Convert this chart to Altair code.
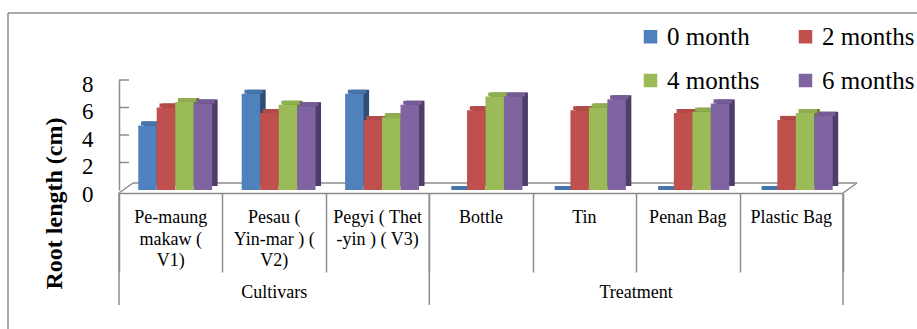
import altair as alt
import pandas as pd

# Categories on the x axis (line breaks mark the wrapped label lines)
categories = [
    "Pe-maung\nmakaw (\nV1)",
    "Pesau (\nYin-mar ) (\nV2)",
    "Pegyi ( Thet\n-yin ) ( V3)",
    "Bottle",
    "Tin",
    "Penan Bag",
    "Plastic Bag",
]
group_names = ["Cultivars", "Treatment"]
series = ["0 month", "2 months", "4 months", "6 months"]

# Root length (cm) per category for each sampling time
month_0 = [4.7, 7.0, 7.0, 0.0, 0.0, 0.0, 0.0]
month_2 = [6.0, 5.6, 5.1, 5.8, 5.8, 5.6, 5.1]
month_4 = [6.4, 6.2, 5.3, 6.8, 6.0, 5.7, 5.6]
month_6 = [6.3, 6.1, 6.2, 6.8, 6.6, 6.3, 5.4]
y_ticks = [0, 2, 4, 6, 8]

front_colors = ["#4F81BD", "#C0504D", "#9BBB59", "#8064A2"]
top_colors = ["#4675AE", "#B24A47", "#8FAE50", "#765C97"]
side_colors = ["#2E4C75", "#843330", "#647A33", "#4E3D68"]

W, H = 724, 113
SERIF = "Liberation Serif"
GREY = "#8C8C8C"

rows = []
for s, vals in zip(series, [month_0, month_2, month_4, month_6]):
    for c, v in zip(categories, vals):
        rows.append({"category": c, "series": s, "value": v})
df = pd.DataFrame(rows)
cat_df = pd.DataFrame({"category": categories})
one = pd.DataFrame({"k": [0]})

y_scale = alt.Scale(domain=[0, 8], range=[110, 0], nice=False)
y_axis = alt.Axis(values=y_ticks, title="Root length (cm)",
                  titleFont=SERIF, titleFontSize=24,
                  titleFontWeight="bold", titleColor="black",
                  titleAngle=270, titleX=-65, titleY=123,
                  titleAlign="center", titleBaseline="middle",
                  labelFont=SERIF, labelFontSize=23,
                  labelColor="black", labelPadding=26,
                  labelOffset=4, ticks=False, domainColor=GREY,
                  domainWidth=1.5, grid=False)
x_scale = alt.Scale(domain=categories, paddingInner=0, paddingOuter=0)
x_axis = alt.Axis(title=None, labels=False, tickBand="extent", tickSize=79,
                  tickColor=GREY, tickWidth=1.5, domainColor=GREY,
                  domainWidth=1.5, grid=False)


def x_enc(band=None):
    if band is None:
        return alt.X("category:N", sort=categories, scale=x_scale, axis=x_axis)
    return alt.X("category:N", sort=categories, scale=x_scale, axis=x_axis,
                 bandPosition=band)


def y_enc(field):
    return alt.Y(field, scale=y_scale, axis=y_axis)


def offset_enc(shift):
    # four bars per category, nudged right inside the band; shift gives the depth
    return alt.XOffset("series:N", sort=series,
                       scale=alt.Scale(domain=series, paddingInner=0,
                                       paddingOuter=0.8,
                                       align=(19.3 + shift) / 29.6))


def color_enc(rng, legend=None):
    if legend is None:
        return alt.Color("series:N", sort=series,
                         scale=alt.Scale(domain=series, range=rng), legend=None)
    return alt.Color("series:N", sort=series,
                     scale=alt.Scale(domain=series, range=rng), legend=legend)


# frame around the figure
frame_top = alt.Chart(one).mark_rule(color=GREY, strokeWidth=1.5).encode(
    x=alt.value(-111), x2=alt.value(W + 80), y=alt.value(-67))
frame_left = alt.Chart(one).mark_rule(color=GREY, strokeWidth=1.5).encode(
    x=alt.value(-111), y=alt.value(-67), y2=alt.value(H + 140))

# 3-D floor outline
floor_back = alt.Chart(one).mark_rule(color=GREY, strokeWidth=1.5).encode(
    x=alt.value(14), x2=alt.value(W + 14), y=alt.value(H - 10))
floor_left = alt.Chart(one).mark_rule(color=GREY, strokeWidth=1.5).encode(
    x=alt.value(0), x2=alt.value(14), y=alt.value(H), y2=alt.value(H - 10))
floor_right = alt.Chart(one).mark_rule(color=GREY, strokeWidth=1.5).encode(
    x=alt.value(W), x2=alt.value(W + 14), y=alt.value(H), y2=alt.value(H - 10))

# value ticks pointing into the plot
tick_df = pd.DataFrame({"v": [t for t in y_ticks if t > 0]})
y_tick_marks = alt.Chart(tick_df).mark_rule(color=GREY, strokeWidth=1.5).encode(
    y=y_enc("v:Q"), x=alt.value(0), x2=alt.value(10))

# column side faces, top faces and front faces
side = alt.Chart(df).mark_bar(yOffset=-4, y2Offset=-4).encode(
    x=x_enc(), xOffset=offset_enc(5.5),
    y=y_enc("value:Q"),
    color=color_enc(side_colors))

top = alt.Chart(df).mark_bar(yOffset=-4, y2Offset=0).encode(
    x=x_enc(), xOffset=offset_enc(2.75),
    y=y_enc("value:Q"),
    y2=alt.Y2("value:Q"),
    color=color_enc(top_colors))

legend = alt.Legend(title=None, orient="none", legendX=519, legendY=-56,
                    direction="horizontal", columns=2, symbolType="square",
                    symbolSize=182, symbolStrokeWidth=0, symbolOpacity=1,
                    labelFont=SERIF, labelFontSize=25, labelColor="black",
                    labelOffset=4, columnPadding=33, rowPadding=18, padding=0)

front = alt.Chart(df).mark_bar().encode(
    x=x_enc(), xOffset=offset_enc(0),
    y=y_enc("value:Q"),
    color=color_enc(front_colors, legend))

# longer separators around the two groups
sep_start = alt.Chart(pd.DataFrame({"category": [categories[0], categories[3]]})).mark_rule(
    color=GREY, strokeWidth=1.5).encode(
    x=x_enc(0), y=alt.value(H), y2=alt.value(H + 112))
sep_end = alt.Chart(pd.DataFrame({"category": [categories[6]]})).mark_rule(
    color=GREY, strokeWidth=1.5).encode(
    x=x_enc(1), y=alt.value(H), y2=alt.value(H + 112))

cat_labels = alt.Chart(cat_df).mark_text(
    lineBreak="\n", baseline="top", align="center", font=SERIF, fontSize=18,
    lineHeight=21.7, color="black").encode(
    x=x_enc(), y=alt.value(H + 16), text="category:N")

group_layers = []
for name, anchor, band in [(group_names[0], categories[1], 0.5),
                           (group_names[1], categories[4], 1.0)]:
    gdf = pd.DataFrame({"category": [anchor], "group": [name]})
    group_layers.append(
        alt.Chart(gdf).mark_text(baseline="middle", align="center", font=SERIF,
                                 fontSize=18, color="black").encode(
            x=x_enc(band), y=alt.value(H + 100), text="group:N"))

chart = alt.layer(
    frame_top, frame_left, floor_back, floor_left, floor_right, y_tick_marks,
    side, top, front, sep_start, sep_end, cat_labels, *group_layers
).resolve_scale(
    color="independent", xOffset="independent"
).properties(
    width=W, height=H,
    padding={"left": 119, "top": 80, "right": 74, "bottom": 136},
    autosize=alt.AutoSizeParams(type="none"),
    background="white",
).configure_view(stroke=None)

chart.save("out.html", embed_options={"renderer": "svg", "actions": False})
